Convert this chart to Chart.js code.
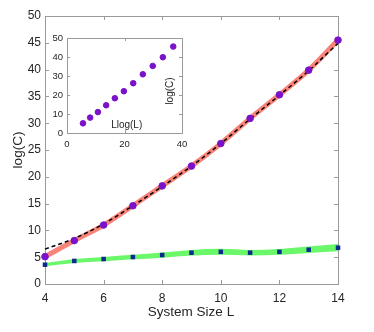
<!DOCTYPE html>
<html>
<head>
<meta charset="utf-8">
<script src="https://cdn.jsdelivr.net/npm/chart.js@4"></script>
<style>
  body { margin: 0; background: #fff; }
  #wrap { position: relative; width: 374px; height: 332px; }
  #inset { position: absolute; left: 44px; top: 28px; }
</style>
</head>
<body>
<div id="wrap">
  <canvas id="mainChart" width="374" height="332"></canvas>
  <canvas id="inset" width="150" height="125"></canvas>
</div>
<script>
// data
const sizes = [4, 5, 6, 7, 8, 9, 10, 11, 12, 13, 14];
const logC = [5.1, 8.1, 11.0, 14.6, 18.3, 22.0, 26.2, 30.9, 35.3, 39.9, 45.5];
const fitC = [6.5, 8.5, 11.2, 14.6, 18.2, 22.0, 26.2, 30.8, 35.2, 39.8, 44.9];
const lowC = [3.6, 4.3, 4.66, 5.03, 5.4, 5.84, 6.0, 5.84, 6.0, 6.4, 6.77];
const bandLow = [3.3, 3.92, 4.26, 4.6, 4.92, 5.32, 5.45, 5.32, 5.45, 5.8, 6.1];
const bandHigh = [3.9, 4.68, 5.06, 5.46, 5.88, 6.36, 6.56, 6.36, 6.55, 7.0, 7.45];
const lLogL = [5.55, 8.05, 10.75, 13.62, 16.64, 19.78, 23.03, 26.38, 29.82, 33.34, 36.95];

const xTicks = [4, 6, 8, 10, 12, 14];
const yTicks = [0, 5, 10, 15, 20, 25, 30, 35, 40, 45, 50];
const insetXTicks = [0, 20, 40];
const insetYTicks = [0, 10, 20, 30, 40, 50];

const FONT = "'Liberation Sans', Arial, Helvetica, sans-serif";
const TEXT = "#262626";
const AXIS = "#9a9a9a";

function pts(xs, ys) {
    return xs.map((v, i) => ({ x: v, y: ys[i] }));
}

// box + inward ticks, matlab style
const boxPlugin = {
    id: "box",
    beforeDatasetsDraw(chart, args, opts) {
        const { ctx, chartArea: a, scales } = chart;
        const len = opts.len || 4;
        ctx.save();
        ctx.strokeStyle = AXIS;
        ctx.lineWidth = 1;
        ctx.strokeRect(Math.round(a.left) + 0.5, Math.round(a.top) + 0.5,
            Math.round(a.right - a.left), Math.round(a.bottom - a.top));
        ctx.beginPath();
        scales.x.ticks.forEach((t) => {
            const px = Math.round(scales.x.getPixelForValue(t.value)) + 0.5;
            ctx.moveTo(px, a.bottom); ctx.lineTo(px, a.bottom - len);
            ctx.moveTo(px, a.top); ctx.lineTo(px, a.top + len);
        });
        scales.y.ticks.forEach((t) => {
            const py = Math.round(scales.y.getPixelForValue(t.value)) + 0.5;
            ctx.moveTo(a.left, py); ctx.lineTo(a.left + len, py);
            ctx.moveTo(a.right, py); ctx.lineTo(a.right - len, py);
        });
        ctx.stroke();
        ctx.restore();
    },
    afterDraw(chart, args, opts) {
        const { ctx } = chart;
        (opts.labels || []).forEach((l) => {
            ctx.save();
            ctx.fillStyle = TEXT;
            ctx.font = l.size + "px " + FONT;
            ctx.textAlign = "center";
            ctx.textBaseline = "middle";
            ctx.translate(l.x, l.y);
            if (l.rot) ctx.rotate(-Math.PI / 2);
            ctx.fillText(l.text, 0, 0);
            ctx.restore();
        });
    },
};

function axisOpts(min, max, ticks, fontSize, pad, fit) {
    return {
        type: "linear",
        min: min,
        max: max,
        afterBuildTicks: (s) => { s.ticks = ticks.map((v) => ({ value: v })); },
        afterFit: fit,
        grid: { display: false, drawTicks: false },
        border: { display: false },
        ticks: { color: TEXT, padding: pad, font: { family: FONT, size: fontSize } },
    };
}

// main chart
new Chart(document.getElementById("mainChart"), {
    type: "scatter",
    data: {
        datasets: [
            {
                data: pts(sizes, logC),
                backgroundColor: "#7a12c9",
                borderColor: "#7a12c9",
                pointRadius: 3.3,
                order: 0,
            },
            {
                data: pts(sizes, lowC),
                pointStyle: "rect",
                backgroundColor: "#0c2a8e",
                borderColor: "#0c2a8e",
                pointRadius: 3.2,
                borderWidth: 0,
                order: 0,
            },
            {
                data: pts(sizes, fitC),
                showLine: true,
                borderColor: "#000",
                borderWidth: 1.5,
                borderDash: [4, 3],
                pointRadius: 0,
                cubicInterpolationMode: "monotone",
                order: 1,
            },
            {
                data: pts(sizes, logC),
                showLine: true,
                borderColor: "#f98379",
                borderWidth: 5,
                pointRadius: 0,
                cubicInterpolationMode: "monotone",
                order: 2,
            },
            {
                data: pts(sizes, bandHigh),
                showLine: true,
                borderWidth: 0,
                pointRadius: 0,
                backgroundColor: "#6af76a",
                fill: "+1",
                cubicInterpolationMode: "monotone",
                order: 3,
            },
            {
                data: pts(sizes, bandLow),
                showLine: true,
                borderWidth: 0,
                pointRadius: 0,
                cubicInterpolationMode: "monotone",
                order: 3,
            },
        ],
    },
    options: {
        responsive: false,
        animation: false,
        clip: false,
        layout: { padding: { left: 0, right: 36, top: 16, bottom: 0 } },
        plugins: {
            legend: { display: false },
            tooltip: { enabled: false },
            box: {
                len: 4,
                labels: [
                    { text: "System Size L", x: 191, y: 312.5, size: 13.5 },
                    { text: "log(C)", x: 18, y: 150, size: 13.5, rot: true },
                ],
            },
        },
        scales: {
            x: axisOpts(4, 14, xTicks, 12, 7, (s) => { s.height = 48; }),
            y: axisOpts(0, 50, yTicks, 12, 4, (s) => { s.width = 45; }),
        },
    },
    plugins: [boxPlugin],
});

// inset chart
new Chart(document.getElementById("inset"), {
    type: "scatter",
    data: {
        datasets: [
            {
                data: pts(lLogL, logC),
                backgroundColor: "#7a12c9",
                borderColor: "#7a12c9",
                pointRadius: 2.8,
            },
        ],
    },
    options: {
        responsive: false,
        animation: false,
        layout: { padding: { left: 0, right: 12, top: 10, bottom: 0 } },
        plugins: {
            legend: { display: false },
            tooltip: { enabled: false },
            box: {
                len: 3,
                labels: [
                    { text: "Llog(L)", x: 82.7, y: 97, size: 10 },
                    { text: "log(C)", x: 126, y: 63, size: 10, rot: true },
                ],
            },
        },
        scales: {
            x: axisOpts(0, 40, insetXTicks, 9.5, 6, (s) => { s.height = 20; }),
            y: axisOpts(0, 50, insetYTicks, 9.5, 4, (s) => { s.width = 23; }),
        },
    },
    plugins: [boxPlugin],
});
</script>
</body>
</html>
